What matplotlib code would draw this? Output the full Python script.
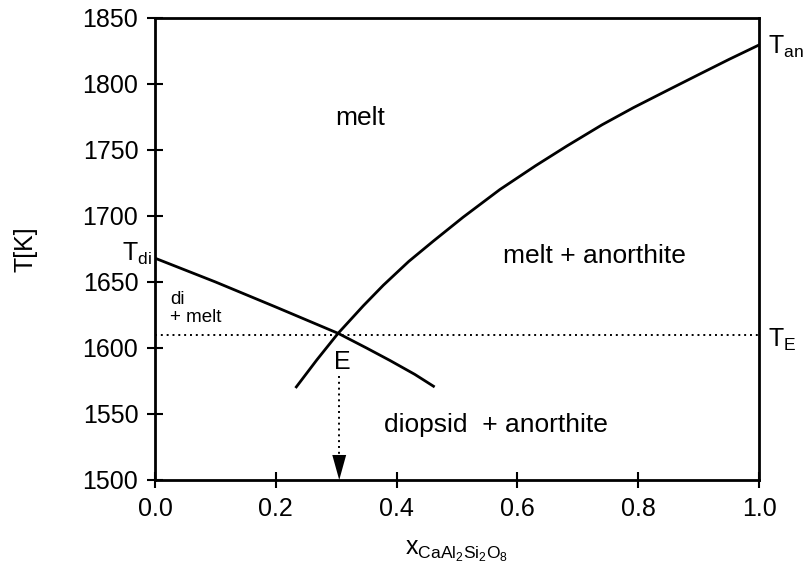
import matplotlib
matplotlib.use("Agg")
import matplotlib.pyplot as plt

plt.rcParams['font.family'] = ['Liberation Sans', 'DejaVu Sans']
plt.rcParams['mathtext.fontset'] = 'custom'
plt.rcParams['mathtext.rm'] = 'Liberation Sans'
plt.rcParams['mathtext.it'] = 'Liberation Sans'
plt.rcParams['mathtext.default'] = 'regular'

# diopside liquidus
x_di = [0.0, 0.1, 0.2, 0.3035, 0.35, 0.389, 0.43, 0.461]
t_di = [1668, 1650, 1631, 1611, 1600, 1590.5, 1580, 1571]

# anorthite liquidus
x_an = [0.234, 0.268, 0.303, 0.345, 0.378, 0.42, 0.461, 0.51, 0.571,
        0.63, 0.682, 0.74, 0.792, 0.85, 0.902, 0.95, 1.0]
t_an = [1570.5, 1591, 1611, 1632, 1647.5, 1665.5, 1681, 1699, 1720,
        1738, 1753, 1769, 1782, 1795.5, 1807.5, 1818.5, 1829.5]

# eutectic
x_e = 0.305
t_e = 1610

x_ticks = [0.0, 0.2, 0.4, 0.6, 0.8, 1.0]
y_ticks = [1500, 1550, 1600, 1650, 1700, 1750, 1800, 1850]

fig = plt.figure(figsize=(8.05, 5.76), dpi=100)
ax = fig.add_axes([0.1925, 0.1667, 0.7505, 0.8023])

ax.plot(x_di, t_di, color='black', lw=2, solid_joinstyle='round')
ax.plot(x_an, t_an, color='black', lw=2, solid_joinstyle='round')

# eutectic temperature line
ax.plot([0, 1], [t_e, t_e], color='black', lw=1.4, linestyle=(0, (1, 2)))

# arrow down to the eutectic composition
ax.plot([x_e, x_e], [1579, 1519], color='black', lw=1.4, linestyle=(0, (1, 2)))
ax.annotate('', xy=(x_e, 1500), xytext=(x_e, 1519),
            arrowprops=dict(arrowstyle='-|>,head_length=1.8,head_width=0.5',
                            color='black', lw=0, shrinkA=0, shrinkB=0))

ax.set_xlim(0, 1)
ax.set_ylim(1500, 1850)
ax.set_xticks(x_ticks)
ax.set_xticklabels(['%.1f' % v for v in x_ticks])
ax.set_yticks(y_ticks)
ax.tick_params(direction='inout', length=12, width=1.5, labelsize=18, pad=6)
for s in ax.spines.values():
    s.set_linewidth(2)

ax.set_xlabel(r'x$_{CaAl_2Si_2O_8}$', fontsize=18, labelpad=13)
ax.set_ylabel('T[K]', fontsize=18, labelpad=32)

# region labels
ax.text(0.339, 1774, 'melt', fontsize=19, ha='center', va='center')
ax.text(0.728, 1670, 'melt + anorthite', fontsize=19, ha='center', va='center')
ax.text(0.564, 1542, 'diopsid  + anorthite', fontsize=19, ha='center', va='center')
ax.text(0.025, 1630, 'di\n+ melt', fontsize=13.5, ha='left', va='center', linespacing=1.05)
ax.text(0.31, 1589, 'E', fontsize=18, ha='center', va='center')

ax.text(-0.005, 1671, r'T$_{di}$', fontsize=18, ha='right', va='center')
ax.text(1.015, 1828, r'T$_{an}$', fontsize=18, ha='left', va='center')
ax.text(1.015, 1606, r'T$_{E}$', fontsize=18, ha='left', va='center')

fig.savefig('out.png', dpi=100)
